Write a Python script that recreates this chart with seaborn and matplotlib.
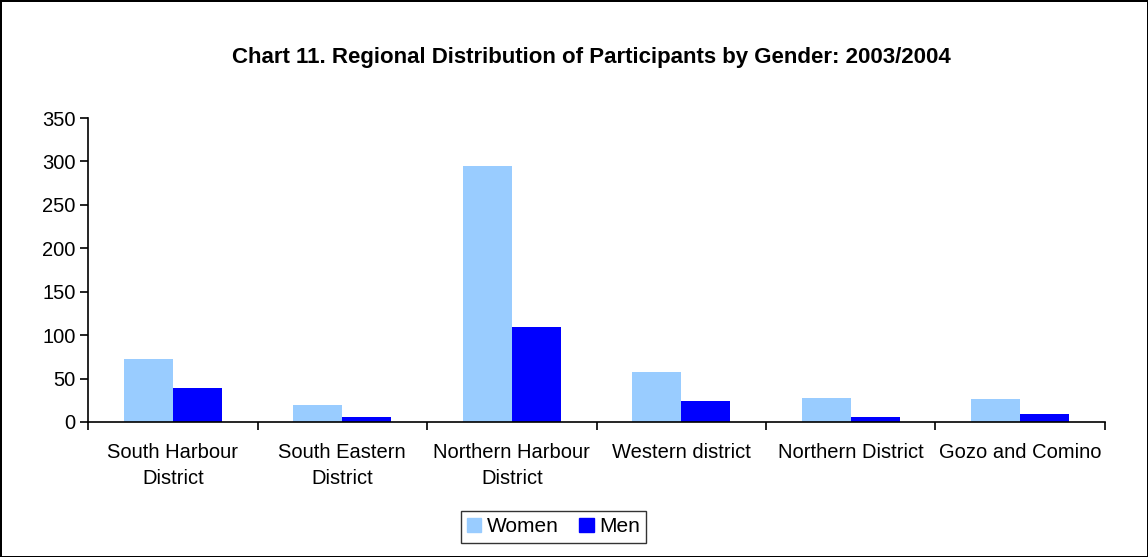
import numpy as np
import pandas as pd
import seaborn as sns
import matplotlib.pyplot as plt
from matplotlib.patches import Rectangle

regions = ["South Harbour\nDistrict", "South Eastern\nDistrict", "Northern Harbour\nDistrict",
           "Western district", "Northern District", "Gozo and Comino"]
women = [72, 20, 295, 57, 28, 26]
men = [39, 6, 109, 24, 6, 9]

data = pd.DataFrame({
    "region": regions * 2,
    "count": women + men,
    "gender": ["Women"] * len(regions) + ["Men"] * len(regions),
})

sns.set_style("white", {"text.color": "black", "xtick.color": "black", "ytick.color": "black"})
plt.rcParams["font.family"] = ["Liberation Sans", "DejaVu Sans"]

fig = plt.figure(figsize=(11.48, 5.57), dpi=100, edgecolor="black", linewidth=2)
ax = fig.add_axes([0.0767, 0.2424, 0.8858, 0.5456])

sns.barplot(data=data, x="region", y="count", hue="gender",
            palette={"Women": "#99CCFF", "Men": "#0000FF"},
            width=0.58, saturation=1, linewidth=0, ax=ax, legend=True)

ax.set_xlim(-0.5, len(regions) - 0.5)
ax.set_ylim(0, 350)
ax.set_yticks(range(0, 351, 50))
ax.set_xlabel("")
ax.set_ylabel("")
ax.tick_params(axis="x", which="major", length=0, pad=15, labelsize=14.5, labelcolor="black")
ax.set_xticks(np.arange(-0.5, len(regions)), minor=True)
ax.tick_params(axis="x", which="minor", bottom=True, length=6, width=1.2,
               color="black", direction="out")
ax.tick_params(axis="y", left=True, length=6, width=1.2, color="black",
               direction="out", labelsize=14.5, pad=3, labelcolor="black")
for lab in ax.get_xticklabels():
    lab.set_linespacing(1.45)

sns.despine(ax=ax, top=True, right=True)
for s in ["left", "bottom"]:
    ax.spines[s].set_color("black")
    ax.spines[s].set_linewidth(1.2)

fig.suptitle("Chart 11. Regional Distribution of Participants by Gender: 2003/2004",
             x=0.515, y=0.915, fontsize=16, fontweight="bold", color="black")

ax.legend_.remove()
handles = [Rectangle((0, 0), 1, 1, color="#99CCFF"), Rectangle((0, 0), 1, 1, color="#0000FF")]
leg = fig.legend(handles, ["Women", "Men"], loc="center", bbox_to_anchor=(0.482, 0.054),
                 ncol=2, frameon=True, fancybox=False, fontsize=15,
                 handlelength=0.7, handleheight=0.7, handletextpad=0.25,
                 columnspacing=1.0, borderpad=0.3, edgecolor="black")
leg.get_frame().set_linewidth(1.0)
for t in leg.get_texts():
    t.set_color("black")

fig.savefig("out.png", dpi=100, edgecolor="black")
